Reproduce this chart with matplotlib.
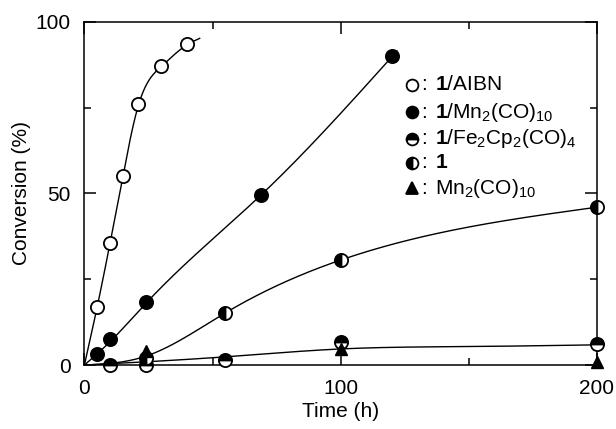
import matplotlib
matplotlib.use('Agg')
import matplotlib.pyplot as plt
import numpy as np

plt.rcParams['font.family'] = ['Liberation Sans', 'DejaVu Sans']
plt.rcParams['mathtext.fontset'] = 'custom'
plt.rcParams['mathtext.rm'] = 'Liberation Sans'
plt.rcParams['mathtext.bf'] = 'Liberation Sans:bold'

# data (time in h, conversion in %)
aibn_t = [5, 10, 15, 21, 30, 40]
aibn_y = [17, 35.5, 55, 76, 87, 93.5]

mn_t = [5, 10, 24, 69, 120]
mn_y = [3.2, 7.5, 18.3, 49.6, 90]

fe_t = [10, 24, 55, 100, 200]
fe_y = [0, 0, 1.6, 6.8, 6.1]

one_t = [24, 55, 100, 200]
one_y = [2, 15.2, 30.6, 46]

mnonly_t = [24, 100, 200]
mnonly_y = [4, 4.6, 1]

# guide curves (knots)
aibn_curve_t = [0, 5, 10, 15, 21, 30, 40, 45]
aibn_curve_y = [0, 17, 35.5, 55, 75.5, 87, 93.3, 95.2]
mn_curve_t = [0, 10, 24, 69, 122]
mn_curve_y = [0, 6.8, 18.0, 49.6, 91.5]
one_curve_t = [0, 24, 55, 100, 200]
one_curve_y = [0, 2.6, 15.2, 30.6, 46]
low_curve_t = [0, 55, 100, 150, 200]
low_curve_y = [0, 2.4, 4.7, 5.4, 5.9]


def spline(xk, yk, x):
    # natural cubic spline through the knots
    xk = np.asarray(xk, float)
    yk = np.asarray(yk, float)
    n = len(xk)
    h = np.diff(xk)
    A = np.zeros((n, n))
    r = np.zeros(n)
    A[0, 0] = 1
    A[-1, -1] = 1
    for k in range(1, n - 1):
        A[k, k - 1] = h[k - 1]
        A[k, k] = 2 * (h[k - 1] + h[k])
        A[k, k + 1] = h[k]
        r[k] = 6 * ((yk[k + 1] - yk[k]) / h[k] - (yk[k] - yk[k - 1]) / h[k - 1])
    M = np.linalg.solve(A, r)
    i = np.clip(np.searchsorted(xk, x) - 1, 0, n - 2)
    a = xk[i + 1] - x
    b = x - xk[i]
    hi = h[i]
    return (M[i] * a**3 / (6 * hi) + M[i + 1] * b**3 / (6 * hi)
            + (yk[i] / hi - M[i] * hi / 6) * a + (yk[i + 1] / hi - M[i + 1] * hi / 6) * b)


def curve(ax, tk, yk):
    x = np.linspace(tk[0], tk[-1], 400)
    ax.plot(x, spline(tk, yk, x), color='black', lw=1.0, zorder=2)


fig = plt.figure(figsize=(6.16, 4.29), dpi=100)
ax = fig.add_axes([0.137, 0.149, 0.832, 0.800])

curve(ax, aibn_curve_t, aibn_curve_y)
curve(ax, mn_curve_t, mn_curve_y)
curve(ax, one_curve_t, one_curve_y)
curve(ax, low_curve_t, low_curve_y)

ms = 9.5
mew = 1.3
ax.plot(aibn_t, aibn_y, 'o', ms=ms, mfc='white', mec='black', mew=mew, clip_on=False, zorder=3)
ax.plot(mn_t, mn_y, 'o', ms=ms, mfc='black', mec='black', mew=mew, clip_on=False, zorder=3)
ax.plot(fe_t, fe_y, 'o', ms=ms, fillstyle='top', mfc='black', mfcalt='white',
        mec='black', mew=mew, clip_on=False, zorder=3)
ax.plot(one_t, one_y, 'o', ms=ms, fillstyle='left', mfc='black', mfcalt='white',
        mec='black', mew=mew, clip_on=False, zorder=3)
ax.plot(mnonly_t, mnonly_y, '^', ms=9, mfc='black', mec='black', clip_on=False, zorder=4)

fs = 15
ax.set_xlim(0, 200)
ax.set_ylim(0, 100)
ax.set_xticks([0, 100, 200])
ax.set_xticks([50, 150], minor=True)
ax.set_yticks([0, 50, 100])
ax.set_yticks([25, 75], minor=True)
ax.tick_params(which='both', direction='in', top=True, right=True, width=1.1,
               labelsize=fs, pad=10)
ax.tick_params(which='major', length=8.5)
ax.tick_params(which='minor', length=5)
for s in ax.spines.values():
    s.set_linewidth(1.1)
ax.set_xlabel('Time (h)', fontsize=fs, labelpad=3)
ax.set_ylabel('Conversion (%)', fontsize=fs, labelpad=3)

# legend drawn by hand, as in the figure
leg_x = 412
leg_rows = [85, 112, 139, 163, 188]
leg_styles = [
    dict(marker='o', mfc='white', mec='black'),
    dict(marker='o', mfc='black', mec='black'),
    dict(marker='o', fillstyle='top', mfc='black', mfcalt='white', mec='black'),
    dict(marker='o', fillstyle='left', mfc='black', mfcalt='white', mec='black'),
    dict(marker='^', mfc='black', mec='black'),
]
leg_labels = [
    r'$\mathbf{1}$/AIBN',
    r'$\mathbf{1}$/Mn$_2$(CO)$_{10}$',
    r'$\mathbf{1}$/Fe$_2$Cp$_2$(CO)$_4$',
    r'$\mathbf{1}$',
    r'Mn$_2$(CO)$_{10}$',
]
for row, st, lab in zip(leg_rows, leg_styles, leg_labels):
    fy = 1 - row / 429
    fig.lines.append(plt.Line2D([leg_x / 616], [fy], transform=fig.transFigure,
                                ms=8.5, mew=1.3, ls='none', **st))
    fig.text((leg_x + 9) / 616, fy, ':', fontsize=fs, va='center', ha='left')
    fig.text((leg_x + 23) / 616, fy, lab, fontsize=fs, va='center', ha='left')

fig.savefig('out.png', dpi=100)
